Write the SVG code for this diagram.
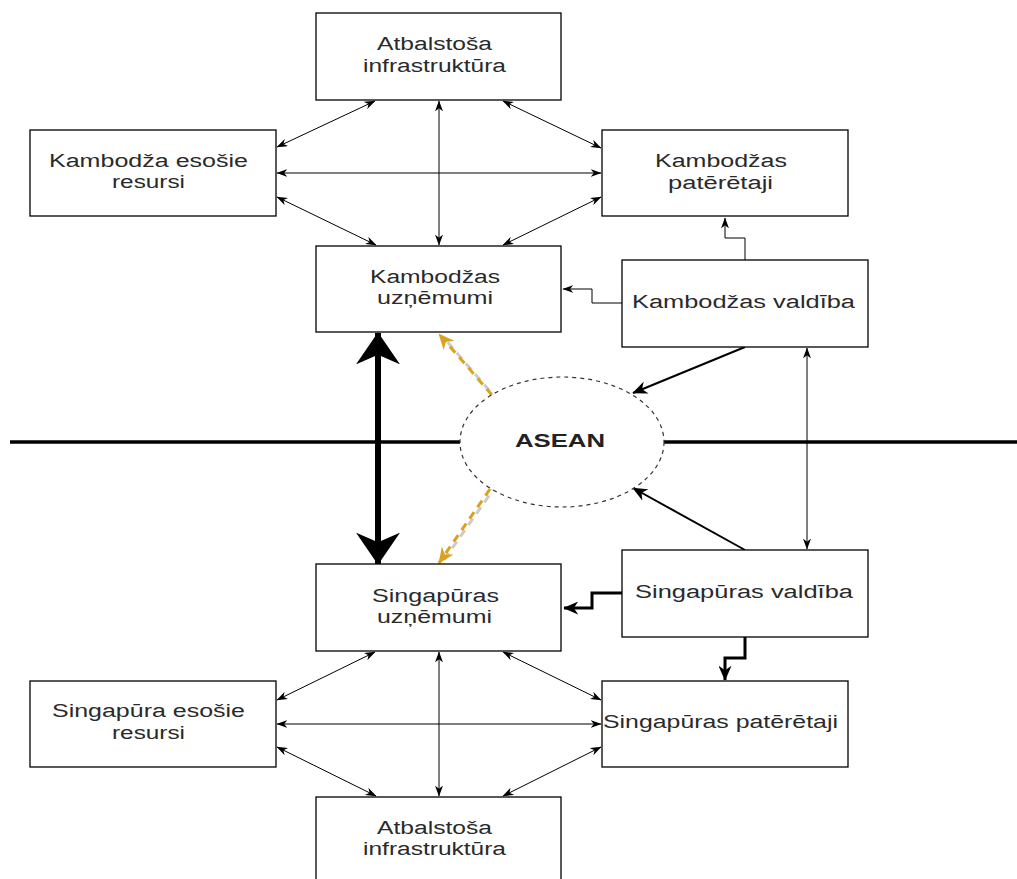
<svg xmlns="http://www.w3.org/2000/svg" width="1017" height="879" viewBox="0 0 1017 879">
<style>
.box{fill:#fff;stroke:#000;stroke-width:1.3}
.t{font-family:"Liberation Sans",Arial,sans-serif;font-size:18px;fill:#2a2a2a;text-anchor:middle}
.c{fill:none;stroke:#000;stroke-width:1}
.c2{fill:none;stroke:#000;stroke-width:2}
.c3{fill:none;stroke:#000;stroke-width:3}
</style>
<defs>
<marker id="a" viewBox="0 0 10 10" preserveAspectRatio="none" refX="9.5" refY="5" markerWidth="11" markerHeight="8" markerUnits="userSpaceOnUse" orient="auto-start-reverse"><path d="M0,0 L10,5 L0,10 L3,5 z" fill="#000"/></marker>
<marker id="m" viewBox="0 0 10 10" preserveAspectRatio="none" refX="9.5" refY="5" markerWidth="15" markerHeight="13" markerUnits="userSpaceOnUse" orient="auto-start-reverse"><path d="M0,0 L10,5 L0,10 L3,5 z" fill="#000"/></marker>
<marker id="b" viewBox="0 0 10 10" preserveAspectRatio="none" refX="9.8" refY="5" markerWidth="32" markerHeight="44" markerUnits="userSpaceOnUse" orient="auto-start-reverse"><path d="M0,0 L10,5 L0,10 L3,5 z" fill="#000"/></marker>
<marker id="o" viewBox="0 0 10 10" preserveAspectRatio="none" refX="9.5" refY="5" markerWidth="16" markerHeight="14" markerUnits="userSpaceOnUse" orient="auto"><path d="M0,0 L10,5 L0,10 L3,5 z" fill="#dca11d"/></marker>
</defs>

<g id="connectors">
<line x1="10" y1="442" x2="460" y2="442" stroke="#000" stroke-width="3.5"/>
<line x1="664" y1="442" x2="1017" y2="442" stroke="#000" stroke-width="3.5"/>
<line class="c" x1="277" y1="147" x2="375" y2="101" marker-start="url(#a)" marker-end="url(#a)"/>
<line class="c" x1="277" y1="173" x2="601" y2="173" marker-start="url(#a)" marker-end="url(#a)"/>
<line class="c" x1="277" y1="197" x2="376" y2="245" marker-start="url(#a)" marker-end="url(#a)"/>
<line class="c" x1="439" y1="101" x2="439" y2="245" stroke-width="1.3" marker-start="url(#a)" marker-end="url(#a)"/>
<line class="c" x1="503" y1="101" x2="601" y2="148" marker-start="url(#a)" marker-end="url(#a)"/>
<line class="c" x1="503" y1="245" x2="601" y2="197" marker-start="url(#a)" marker-end="url(#a)"/>
<path class="c" d="M622,303 H592 V289 H563" marker-end="url(#a)"/>
<path class="c" d="M745,260 V238 H725 V218" marker-end="url(#a)"/>
<line class="c2" x1="745" y1="347" x2="633" y2="393" marker-end="url(#m)"/>
<line class="c" x1="807" y1="348" x2="807" y2="549" stroke-width="1.3" marker-start="url(#a)" marker-end="url(#a)"/>
<line class="c2" x1="745" y1="550" x2="633" y2="488" marker-end="url(#m)"/>
<path class="c3" d="M622,593 H592 V608 H564" marker-end="url(#m)"/>
<path class="c3" d="M745,637 V658 H725 V680" marker-end="url(#m)"/>
<line x1="378" y1="333" x2="378" y2="564" stroke="#000" stroke-width="6" marker-start="url(#b)" marker-end="url(#b)"/>
<line x1="494" y1="396" x2="444" y2="338" stroke="#ccc" stroke-width="3" stroke-dasharray="8,6" stroke-dashoffset="7"/>
<line x1="492" y1="395" x2="439" y2="334" stroke="#dca11d" stroke-width="3" stroke-dasharray="8,6" marker-end="url(#o)"/>
<line x1="493" y1="490" x2="444" y2="560" stroke="#ccc" stroke-width="3" stroke-dasharray="8,6" stroke-dashoffset="7"/>
<line x1="490" y1="489" x2="439" y2="563" stroke="#dca11d" stroke-width="3" stroke-dasharray="8,6" marker-end="url(#o)"/>
<line class="c" x1="277" y1="700" x2="375" y2="652" marker-start="url(#a)" marker-end="url(#a)"/>
<line class="c" x1="277" y1="724" x2="601" y2="724" marker-start="url(#a)" marker-end="url(#a)"/>
<line class="c" x1="277" y1="747" x2="376" y2="796" marker-start="url(#a)" marker-end="url(#a)"/>
<line class="c" x1="439" y1="652" x2="439" y2="796" stroke-width="1.3" marker-start="url(#a)" marker-end="url(#a)"/>
<line class="c" x1="503" y1="652" x2="601" y2="700" marker-start="url(#a)" marker-end="url(#a)"/>
<line class="c" x1="503" y1="796" x2="601" y2="747" marker-start="url(#a)" marker-end="url(#a)"/>
</g>

<g id="asean">
<ellipse cx="562" cy="442" rx="102" ry="65" fill="#fff" stroke="#333" stroke-width="1.2" stroke-dasharray="4,4"/>
<text x="560" y="447" font-family="'Liberation Sans',Arial,sans-serif" font-size="18" font-weight="bold" fill="#222" text-anchor="middle" textLength="90" lengthAdjust="spacingAndGlyphs">ASEAN</text>
</g>

<g id="kh-infra">
<rect class="box" x="316" y="13" width="245" height="87"/>
<text class="t" x="434.5" y="50" textLength="115" lengthAdjust="spacingAndGlyphs">Atbalstoša</text>
<text class="t" x="434.5" y="72" textLength="143" lengthAdjust="spacingAndGlyphs">infrastruktūra</text>
</g>
<g id="kh-resursi">
<rect class="box" x="30" y="130" width="246" height="86"/>
<text class="t" x="148.5" y="167" textLength="199" lengthAdjust="spacingAndGlyphs">Kambodža esošie</text>
<text class="t" x="148.5" y="188" textLength="73" lengthAdjust="spacingAndGlyphs">resursi</text>
</g>
<g id="kh-pateretaji">
<rect class="box" x="602" y="130" width="246" height="86"/>
<text class="t" x="721" y="167" textLength="132" lengthAdjust="spacingAndGlyphs">Kambodžas</text>
<text class="t" x="720.5" y="189" textLength="105" lengthAdjust="spacingAndGlyphs">patērētaji</text>
</g>
<g id="kh-uznemumi">
<rect class="box" x="316" y="246" width="245" height="86"/>
<text class="t" x="435" y="283" textLength="130" lengthAdjust="spacingAndGlyphs">Kambodžas</text>
<text class="t" x="435" y="304" textLength="116" lengthAdjust="spacingAndGlyphs">uzņēmumi</text>
</g>
<g id="kh-valdiba">
<rect class="box" x="622" y="260" width="246" height="87"/>
<text class="t" x="743.5" y="308" textLength="223" lengthAdjust="spacingAndGlyphs">Kambodžas valdība</text>
</g>

<g id="sg-uznemumi">
<rect class="box" x="316" y="564" width="245" height="87"/>
<text class="t" x="435.5" y="602" textLength="127" lengthAdjust="spacingAndGlyphs">Singapūras</text>
<text class="t" x="434.5" y="623" textLength="115" lengthAdjust="spacingAndGlyphs">uzņēmumi</text>
</g>
<g id="sg-valdiba">
<rect class="box" x="622" y="550" width="246" height="87"/>
<text class="t" x="744" y="598" textLength="218" lengthAdjust="spacingAndGlyphs">Singapūras valdība</text>
</g>
<g id="sg-resursi">
<rect class="box" x="30" y="681" width="246" height="86"/>
<text class="t" x="148.5" y="717" textLength="193" lengthAdjust="spacingAndGlyphs">Singapūra esošie</text>
<text class="t" x="148.5" y="739" textLength="73" lengthAdjust="spacingAndGlyphs">resursi</text>
</g>
<g id="sg-pateretaji">
<rect class="box" x="602" y="681" width="246" height="86"/>
<text class="t" x="720.5" y="728" textLength="235" lengthAdjust="spacingAndGlyphs">Singapūras patērētaji</text>
</g>
<g id="sg-infra">
<rect class="box" x="316" y="797" width="245" height="90"/>
<text class="t" x="434.5" y="834" textLength="115" lengthAdjust="spacingAndGlyphs">Atbalstoša</text>
<text class="t" x="434.5" y="855" textLength="143" lengthAdjust="spacingAndGlyphs">infrastruktūra</text>
</g>
</svg>
